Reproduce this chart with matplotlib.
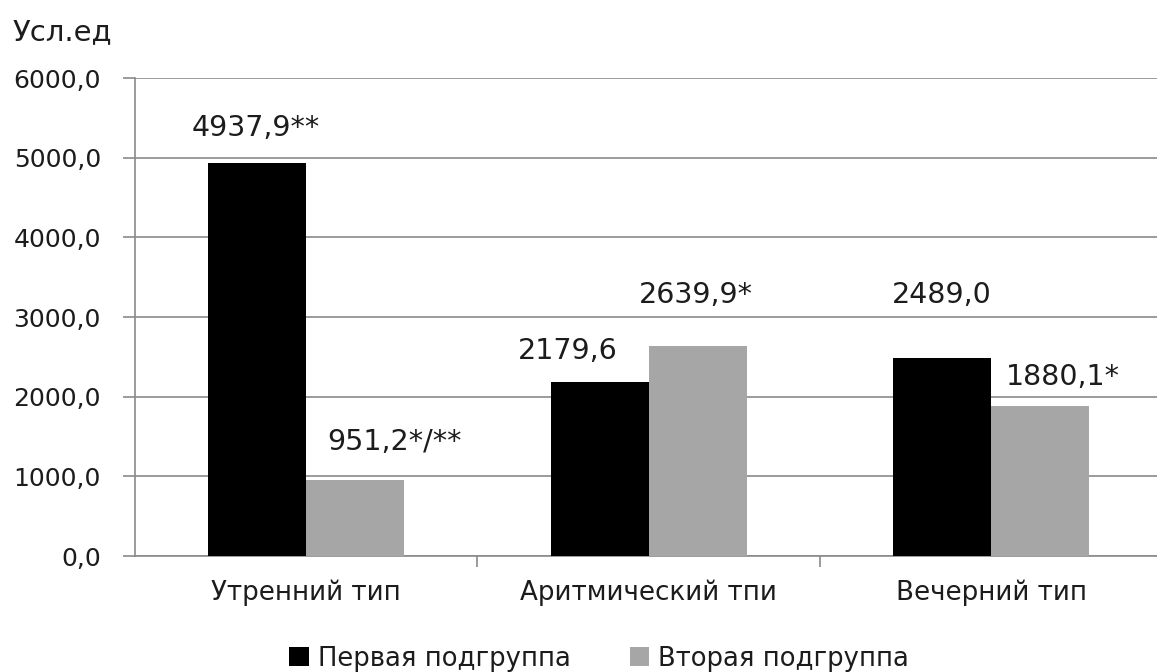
import numpy as np
import matplotlib.pyplot as plt
from matplotlib.patches import Patch

categories = ["Утренний тип", "Аритмический тпи", "Вечерний тип"]
group1 = [4937.9, 2179.6, 2489.0]
group2 = [951.2, 2639.9, 1880.1]
labels1 = ["4937,9**", "2179,6", "2489,0"]
labels2 = ["951,2*/**", "2639,9*", "1880,1*"]
series_names = ["Первая подгруппа", "Вторая подгруппа"]
yticks = [0, 1000, 2000, 3000, 4000, 5000, 6000]

# label offsets in pixels: (dx from bar centre, baseline height above bar top)
off1 = [(-2, 27), (-32, 23), (0, 55)]
off2 = [(39, 30), (-2, 43), (23, 21)]

plt.rcParams['font.family'] = ['DejaVu Sans']
txt = '#1c1c1c'
grid_c = '#8a8a8a'
c1, c2 = '#000000', '#a6a6a6'

fig = plt.figure(figsize=(11.57, 6.72), dpi=100)
ax = fig.add_axes([0.1167, 0.1726, 0.888, 0.7113])

x = np.arange(len(categories))
w = 0.286
b1 = ax.bar(x - w / 2, group1, w, color=c1, zorder=3)
b2 = ax.bar(x + w / 2, group2, w, color=c2, zorder=3)

px = 72 / 100
for bars, labs, offs in [(b1, labels1, off1), (b2, labels2, off2)]:
    for r, lab, (dx, dy) in zip(bars, labs, offs):
        ax.annotate(lab, (r.get_x() + r.get_width() / 2, r.get_height()),
                    xytext=(dx * px, dy * px), textcoords='offset points',
                    ha='center', va='baseline', fontsize=20.5, color=txt)

ax.set_xlim(-0.5, 2.5)
ax.set_ylim(0, 6000)
ax.set_yticks(yticks)
ax.set_yticklabels([f"{v:.1f}".replace('.', ',') for v in yticks])
ax.yaxis.grid(True, color=grid_c, linewidth=1.2, zorder=0)

ax.set_xticks(x)
ax.set_xticklabels(categories)
ax.set_xticks([0.5, 1.5], minor=True)
ax.tick_params(axis='x', which='major', length=0, pad=17, labelsize=18.8, labelcolor=txt)
ax.tick_params(axis='x', which='minor', length=8, width=1.2, color=grid_c, direction='out')
ax.tick_params(axis='y', length=8.5, width=1.2, color=grid_c, pad=16, labelsize=18, labelcolor=txt)

for s in ['top', 'right']:
    ax.spines[s].set_visible(False)
for s in ['left', 'bottom']:
    ax.spines[s].set_color(grid_c)
    ax.spines[s].set_linewidth(1.2)

fig.text(13 / 1157, 1 - 32 / 672, "Усл.ед", ha='left', va='center', fontsize=21, color=txt)

handles = [Patch(facecolor=c1), Patch(facecolor=c2)]
fig.legend(handles, series_names, loc='center', bbox_to_anchor=(0.518, 0.02),
           ncol=2, frameon=False, fontsize=18.6, handlelength=0.75, handleheight=0.75,
           handletextpad=0.35, columnspacing=2.3, labelcolor=txt,
           borderpad=0, borderaxespad=0)

fig.savefig('out.png', dpi=100)
